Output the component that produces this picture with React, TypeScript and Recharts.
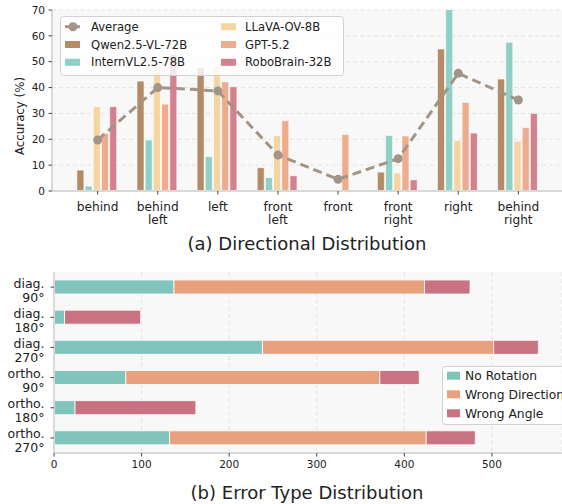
import React from 'react';
import { ComposedChart, BarChart, Bar, Line, XAxis, YAxis, CartesianGrid, Legend } from 'recharts';

// ---- Top chart data: (a) Directional Distribution ----
const categories = ['behind', 'behind\nleft', 'left', 'front\nleft', 'front', 'front\nright', 'right', 'behind\nright'];
const qwenVals = [8.1, 42.5, 47.6, 9.0, 0, 7.3, 54.9, 43.3];
const internVals = [1.9, 19.7, 13.3, 5.2, 0, 21.5, 96.3, 57.5];
const llavaVals = [32.6, 49.0, 48.1, 21.4, 0, 7.0, 19.6, 19.3];
const gptVals = [22.3, 33.6, 42.2, 27.2, 21.9, 21.3, 34.3, 24.5];
const roboVals = [32.6, 52.9, 40.3, 5.9, 0, 4.3, 22.4, 30.0];
const avgVals = [19.7, 40.0, 38.7, 13.9, 4.5, 12.5, 45.5, 35.2];
const accTicks = [0, 10, 20, 30, 40, 50, 60, 70];

// ---- Bottom chart data: (b) Error Type Distribution ----
const rotations = ['diag.\n90°', 'diag.\n180°', 'diag.\n270°', 'ortho.\n90°', 'ortho.\n180°', 'ortho.\n270°'];
const noRotation = [137, 12, 238, 82, 24, 132];
const wrongDirection = [286, 0, 264, 290, 0, 293];
const wrongAngle = [52, 87, 51, 45, 138, 56];
const countTicks = [0, 100, 200, 300, 400, 500];

const modelSeries = [
  { key: 'qwen', name: 'Qwen2.5-VL-72B', color: '#b38b66' },
  { key: 'intern', name: 'InternVL2.5-78B', color: '#8fcfc5' },
  { key: 'llava', name: 'LLaVA-OV-8B', color: '#f5d5a1' },
  { key: 'gpt', name: 'GPT-5.2', color: '#eeac8e' },
  { key: 'robo', name: 'RoboBrain-32B', color: '#d3808f' },
];
const avgColor = '#a39585';
const errSeries = [
  { key: 'nr', name: 'No Rotation', color: '#80c4bb' },
  { key: 'wd', name: 'Wrong Direction', color: '#e9a07c' },
  { key: 'wa', name: 'Wrong Angle', color: '#c97282' },
];

const topData = categories.map((c, i) => ({
  cat: c,
  qwen: qwenVals[i],
  intern: internVals[i],
  llava: llavaVals[i],
  gpt: gptVals[i],
  robo: roboVals[i],
  avg: avgVals[i],
}));

const botData = rotations.map((r, i) => ({
  name: r,
  nr: noRotation[i],
  wd: wrongDirection[i],
  wa: wrongAngle[i],
}));

const FONT = 'DejaVu Sans';
const TXT = '#222';

const CatTick = (props: any) => {
  const { x, y, payload } = props;
  const lines = String(payload.value).split('\n');
  return (
    <text x={x} y={y} textAnchor="middle" fontFamily={FONT} fontSize={12.2} fill={TXT}>
      {lines.map((l, i) => (
        <tspan key={i} x={x} y={y + 13.5 + i * 13}>{l}</tspan>
      ))}
    </text>
  );
};

const RowTick = (props: any) => {
  const { x, y, payload } = props;
  const lines = String(payload.value).split('\n');
  return (
    <text x={x} y={y} textAnchor="end" fontFamily={FONT} fontSize={12.5} fill={TXT}>
      {lines.map((l, i) => (
        <tspan key={i} x={x} y={y + 0.5 + i * 14}>{l}</tspan>
      ))}
    </text>
  );
};

const TopLegend = () => {
  const col1 = [{ key: 'avg', name: 'Average', color: avgColor }, modelSeries[0], modelSeries[1]];
  const col2 = [modelSeries[2], modelSeries[3], modelSeries[4]];
  const rowY = [10.7, 28.5, 46.3];
  return (
    <svg width={284} height={60} style={{ display: 'block' }}>
      <rect x={0.5} y={0.5} width={283} height={59} rx={3} fill="rgba(255,255,255,0.8)" stroke="#d2d2d2" />
      {col1.map((s, i) => (
        <g key={s.key}>
          {s.key === 'avg' ? (
            <g>
              <line x1={5} x2={20} y1={rowY[i]} y2={rowY[i]} stroke={avgColor} strokeWidth={3} />
              <circle cx={13} cy={rowY[i]} r={4.5} fill={avgColor} />
            </g>
          ) : (
            <rect x={5} y={rowY[i] - 3.5} width={15} height={7} fill={s.color} />
          )}
          <text x={31} y={rowY[i]} dy="0.36em" fontFamily={FONT} fontSize={11.6} fill={TXT}>{s.name}</text>
        </g>
      ))}
      {col2.map((s, i) => (
        <g key={s.key}>
          <rect x={161} y={rowY[i] - 3.5} width={15} height={7} fill={s.color} />
          <text x={185} y={rowY[i]} dy="0.36em" fontFamily={FONT} fontSize={11.6} fill={TXT}>{s.name}</text>
        </g>
      ))}
    </svg>
  );
};

const BotLegend = () => {
  const rowY = [9.7, 28.3, 47.3];
  return (
    <svg width={132} height={59} style={{ display: 'block' }}>
      <rect x={0.5} y={0.5} width={140} height={58} rx={3} fill="rgba(255,255,255,0.8)" stroke="#d2d2d2" />
      {errSeries.map((s, i) => (
        <g key={s.key}>
          <rect x={5} y={rowY[i] - 4} width={13} height={8} fill={s.color} />
          <text x={23} y={rowY[i]} dy="0.36em" fontFamily={FONT} fontSize={12.3} fill={TXT}>{s.name}</text>
        </g>
      ))}
    </svg>
  );
};

export default function App() {
  return (
    <div style={{ position: 'absolute', left: 0, top: 0, width: 562, height: 504, overflow: 'hidden', background: '#fff', fontFamily: FONT }}>
      <div style={{ position: 'absolute', left: 0, top: 0 }}>
        <ComposedChart width={562} height={232} data={topData} margin={{ top: 10, right: 0, left: 0, bottom: 0 }} barCategoryGap={9.3} barGap={1.2}>
          <CartesianGrid fill="#f8f8f8" vertical={false} stroke="#e3e3e3" strokeDasharray="4 3" />
          <XAxis
            dataKey="cat"
            height={41}
            interval={0}
            padding={{ left: 15.6, right: 13.6 }}
            axisLine={{ stroke: '#d9d9d9', strokeWidth: 2 }}
            tickLine={{ stroke: '#444' }}
            tickSize={3.5}
            tickMargin={3}
            tick={<CatTick />}
          />
          <YAxis
            width={52}
            domain={[0, 70]}
            ticks={accTicks}
            allowDataOverflow
            interval={0}
            axisLine={{ stroke: '#d9d9d9', strokeWidth: 2 }}
            tickLine={{ stroke: '#444' }}
            tickSize={3.5}
            tickMargin={3.5}
            tick={{ fontFamily: FONT, fontSize: 10.5, fill: TXT }}
          />
          {modelSeries.map((s) => (
            <Bar key={s.key} dataKey={s.key} name={s.name} fill={s.color} stroke="#fff" strokeWidth={0.6} isAnimationActive={false} />
          ))}
          <Line
            dataKey="avg"
            name="Average"
            stroke={avgColor}
            strokeWidth={3}
            strokeDasharray="9 5"
            dot={{ r: 4.5, fill: avgColor, stroke: 'none', strokeDasharray: '' }}
            activeDot={false}
            isAnimationActive={false}
          />
          <Legend
            layout="vertical"
            align="center"
            verticalAlign="middle"
            content={() => <TopLegend />}
            wrapperStyle={{ position: 'absolute', left: 60, top: 16, width: 284, height: 60 }}
          />
        </ComposedChart>
      </div>
      <div style={{ position: 'absolute', left: 0, top: 262 }}>
        <BarChart layout="vertical" width={562} height={219} data={botData} margin={{ top: 10, right: 0, left: 0, bottom: 0 }} barCategoryGap={8}>
          <CartesianGrid fill="#f8f8f8" horizontal={false} stroke="#e3e3e3" strokeDasharray="4 3" />
          <XAxis
            type="number"
            domain={[0, 580]}
            ticks={countTicks}
            interval={0}
            height={28}
            axisLine={{ stroke: '#d9d9d9', strokeWidth: 2 }}
            tickLine={{ stroke: '#444' }}
            tickSize={3.5}
            tickMargin={4.5}
            tick={{ fontFamily: FONT, fontSize: 10.5, fill: TXT }}
          />
          <YAxis
            type="category"
            dataKey="name"
            width={54}
            interval={0}
            axisLine={{ stroke: '#d9d9d9', strokeWidth: 2 }}
            tickLine={{ stroke: '#444' }}
            tickSize={3.5}
            tickMargin={6}
            tick={<RowTick />}
          />
          {errSeries.map((s) => (
            <Bar key={s.key} dataKey={s.key} name={s.name} stackId="err" fill={s.color} stroke="#fff" strokeWidth={0.8} isAnimationActive={false} />
          ))}
          <Legend
            layout="vertical"
            align="center"
            verticalAlign="middle"
            content={() => <BotLegend />}
            wrapperStyle={{ position: 'absolute', left: 442, top: 104, width: 132, height: 59 }}
          />
        </BarChart>
      </div>
      <svg width={562} height={504} style={{ position: 'absolute', left: 0, top: 0, pointerEvents: 'none' }}>
        <text x={20} y={116} transform="rotate(-90 20 116)" textAnchor="middle" dy="0.35em" fontFamily={FONT} fontSize={11.8} fill={TXT}>Accuracy (%)</text>
        <text x={307} y={250} textAnchor="middle" fontFamily={FONT} fontSize={18} fill={TXT}>(a) Directional Distribution</text>
        <text x={307} y={499} textAnchor="middle" fontFamily={FONT} fontSize={18} fill={TXT}>(b) Error Type Distribution</text>
      </svg>
    </div>
  );
}
